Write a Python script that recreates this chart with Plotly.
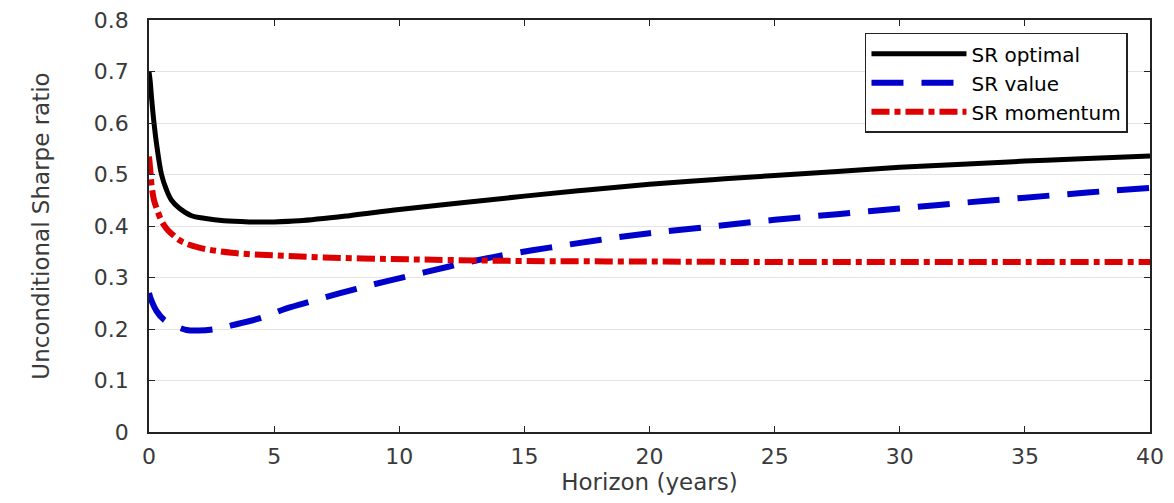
import plotly.graph_objects as go

# Horizon (years)
x_opt = [0.0, 0.05, 0.1, 0.2, 0.3, 0.5, 0.7, 0.9, 1.2, 1.7, 2.2, 3.0, 4.0, 5.0, 6.0, 8.0, 10.0, 12.5, 15.0, 17.5, 20.0, 22.5, 25.0, 27.5, 30.0, 32.5, 35.0, 37.5, 40.0]
sr_optimal = [0.70, 0.68, 0.65, 0.60, 0.56, 0.50, 0.47, 0.45, 0.435, 0.42, 0.415, 0.41, 0.408, 0.408, 0.41, 0.42, 0.432, 0.445, 0.458, 0.47, 0.481, 0.49, 0.498, 0.506, 0.514, 0.52, 0.526, 0.531, 0.536]

x_val = [0.0, 0.1, 0.3, 0.6, 1.0, 1.5, 2.0, 2.7, 3.3, 4.5, 5.5, 6.5, 7.6, 8.6, 9.6, 11.0, 12.5, 14.0, 16.0, 18.0, 20.0, 22.5, 25.0, 27.5, 30.0, 32.5, 35.0, 37.5, 40.0]
sr_value = [0.27, 0.255, 0.235, 0.218, 0.207, 0.198, 0.197, 0.2, 0.207, 0.222, 0.24, 0.254, 0.269, 0.282, 0.294, 0.31, 0.327, 0.342, 0.358, 0.373, 0.386, 0.399, 0.412, 0.423, 0.434, 0.445, 0.455, 0.465, 0.474]

x_mom = [0.0, 0.05, 0.1, 0.2, 0.3, 0.5, 0.7, 0.9, 1.3, 2.0, 3.3, 5.0, 7.0, 9.6, 12.0, 15.0, 20.0, 25.0, 30.0, 35.0, 40.0]
sr_momentum = [0.535, 0.51, 0.48, 0.45, 0.435, 0.41, 0.395, 0.385, 0.37, 0.358, 0.348, 0.343, 0.339, 0.336, 0.334, 0.332, 0.331, 0.33, 0.33, 0.33, 0.33]

x_ticks = [0, 5, 10, 15, 20, 25, 30, 35, 40]
y_ticks = [0, 0.1, 0.2, 0.3, 0.4, 0.5, 0.6, 0.7, 0.8]
y_tick_text = ["0", "0.1", "0.2", "0.3", "0.4", "0.5", "0.6", "0.7", "0.8"]

fig = go.Figure()
fig.add_trace(go.Scatter(x=x_opt, y=sr_optimal, mode="lines", name="SR optimal",
                         line=dict(color="black", width=5, shape="spline")))
fig.add_trace(go.Scatter(x=x_val, y=sr_value, mode="lines", name="SR value",
                         line=dict(color="#0000cc", width=6, dash="32px,18px", shape="spline")))
fig.add_trace(go.Scatter(x=x_mom, y=sr_momentum, mode="lines", name="SR momentum",
                         line=dict(color="#dd0000", width=6, dash="18px,5px,6px,5px", shape="spline")))

font_family = "DejaVu Sans, Verdana, sans-serif"
axis_common = dict(
    showline=True, linecolor="#222", linewidth=1.5, mirror="ticks",
    ticks="inside", ticklen=6, tickcolor="#222", zeroline=False, automargin=False,
    ticklabeloverflow="allow",
    tickfont=dict(family=font_family, size=22, color="#3a3a3a"),
)

fig.update_layout(
    width=1166, height=495,
    margin=dict(l=141, r=24, t=12, b=71, autoexpand=False),
    paper_bgcolor="white", plot_bgcolor="white",
    xaxis=dict(range=[0, 40], tickvals=x_ticks, showgrid=False, ticklabelstandoff=4,
               title=dict(text="Horizon (years)", font=dict(family=font_family, size=23, color="#3a3a3a"), standoff=2),
               **axis_common),
    yaxis=dict(range=[0, 0.8], tickvals=y_ticks, ticktext=y_tick_text, showgrid=True,
               gridcolor="#e3e3e3", gridwidth=1, ticklabelstandoff=14,
               title=dict(text="Unconditional Sharpe ratio", font=dict(family=font_family, size=23, color="#3a3a3a"), standoff=38),
               **axis_common),
    legend=dict(x=0.978, y=0.969, xanchor="right", yanchor="top",
                bgcolor="white", bordercolor="#222", borderwidth=1.5,
                font=dict(family=font_family, size=20, color="black"),
                itemwidth=95, tracegroupgap=0),
    showlegend=True,
)

fig.write_html("out.html")
